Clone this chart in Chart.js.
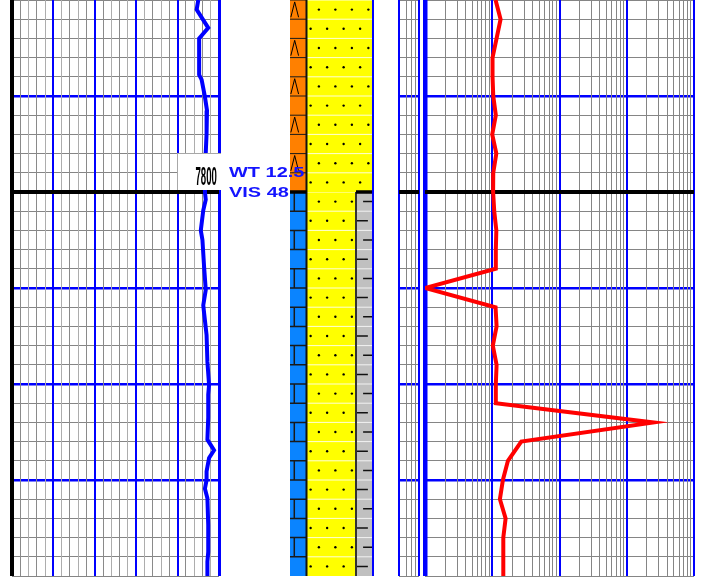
<!DOCTYPE html>
<html>
<head>
<meta charset="utf-8">
<script src="https://cdn.jsdelivr.net/npm/chart.js@4.4.1/dist/chart.umd.min.js"></script>
<style>
  html, body { margin:0; padding:0; background:#fff; }
  #wrap { position:relative; width:702px; height:581px; overflow:hidden; background:#fff; }
  #wrap canvas { position:absolute; left:0; top:0; }
  #depthBox { position:absolute; left:177px; top:153px; width:44px; height:37px; background:#fff;
              border-left:1px solid #a8a8a8; border-top:1px solid #a8a8a8; box-sizing:border-box; }
  #depthLbl { position:absolute; right:485.5px; top:162.5px; font:bold 26px "Liberation Sans", Arial, sans-serif;
              line-height:26px; color:#000; transform:scaleX(0.37); transform-origin:right center; white-space:nowrap; }
  .mud { position:absolute; left:229px; font:bold 15px "Liberation Sans", Arial, sans-serif; line-height:15px;
         color:#1414ff; transform:scaleX(1.33); transform-origin:left center; white-space:pre; }
</style>
</head>
<body>
<div id="wrap">
  <canvas id="trkLeft" width="702" height="581" style="width:702px;height:581px"></canvas>
  <canvas id="trkLith" width="702" height="581" style="width:702px;height:581px"></canvas>
  <canvas id="trkNarrow" width="702" height="581" style="width:702px;height:581px"></canvas>
  <canvas id="trkLog" width="702" height="581" style="width:702px;height:581px"></canvas>
  <div id="depthBox"></div>
  <div id="depthLbl"></div>
  <div class="mud" id="mudWt" style="top:164px"></div>
  <div class="mud" id="mudVis" style="top:183.5px"></div>
</div>
<script>
// ---------------- data ----------------
const depthTop = 7780, depthBase = 7840, rowFt = 2, majorFt = 10, markerDepth = 7800;

// left track (linear 0..25)
const leftMin = 0, leftMax = 25, leftMajor = 5;
const blueDepth = [7780.0, 7781.0, 7782.9, 7784.0, 7787.8, 7788.3, 7790.1, 7791.5, 7793.9, 7795.9,
                   7797.9, 7800.0, 7800.8, 7801.9, 7804.0, 7805.0, 7807.8, 7810.2, 7811.8, 7812.6,
                   7814.9, 7817.7, 7820.1, 7821.1, 7823.5, 7825.8, 7826.9, 7827.7, 7829.1, 7830.0,
                   7830.9, 7831.9, 7834.7, 7837.5, 7838.5, 7840.0];
const blueValue = [22.5, 22.3, 23.7, 22.6, 22.6, 22.9, 23.3, 23.55, 23.5, 23.4,
                   23.37, 23.3, 23.4, 23.1, 22.8, 23.0, 23.2, 23.4, 23.1, 23.2,
                   23.5, 23.6, 23.8, 23.7, 23.7, 23.6, 24.4, 23.8, 23.5, 23.5,
                   23.3, 23.6, 23.7, 23.7, 23.6, 23.6];

// lithology (percent of column, per interval)
const lithoTop      = [7780, 7800];
const lithoBase     = [7800, 7840];
const chertPct      = [20, 0];
const limestonePct  = [0, 20];
const sandstonePct  = [80, 60];
const shalePct      = [0, 20];

// narrow track grid
const narrowGrid = [0, 7.7, 12.7, 16.7, 20];

// log track (1..10000)
const logMin = 1, logMax = 10000;
const logDecades = [1, 10, 100, 1000];
const redDepth = [7780, 7782, 7784, 7786, 7788, 7790, 7792, 7794, 7796, 7798,
                  7800, 7802, 7804, 7806, 7808, 7810, 7812, 7814, 7816, 7818,
                  7820, 7822, 7824, 7826, 7828, 7830, 7832, 7834, 7836, 7838, 7840];
const redValue = [11.2, 13.3, 11.6, 10.1, 10.1, 10.35, 11.3, 10.0, 11.5, 10.35,
                  10.3, 10.7, 11.5, 11.3, 11.3, 1, 11.2, 11.6, 10.2, 11.6,
                  11.3, 11.3, 2500, 27, 17.1, 14.4, 13.0, 15.8, 14.6, 14.6, 14.6];

// header labels
const depthLabel = '7800';
const mudWeight = 'WT 12.5';
const mudVis = 'VIS 48';

// ---------------- styles / helpers ----------------
const W = 702, H = 581, plotBottom = 576;
const BLUE = '#0000ff', GRAY = '#858585';
const lithoColumns = ['chert', 'limestone', 'sandstone', 'shale'];
const lithoPct = { chert: chertPct, limestone: limestonePct, sandstone: sandstonePct, shale: shalePct };
const lithoFill = { chert: '#ff8000', limestone: '#0a84ff', sandstone: '#ffff00', shale: '#c0c0c0' };

const isMarker = v => Math.abs(v - markerDepth) < 1e-6;
const isEnd = v => Math.abs(v - depthTop) < 1e-6 || Math.abs(v - depthBase) < 1e-6;
const isMajorDepth = v => !isEnd(v) && Math.abs(Math.round(v) - v) < 1e-6 && Math.round(v) % majorFt === 0;

function yScales(show) {
  return {
    y: { type: 'linear', position: 'left', reverse: true, min: depthTop, max: depthBase,
         ticks: { display: false, stepSize: rowFt }, border: { display: false },
         grid: { display: show, drawTicks: false, z: -2,
                 color: c => isMarker(c.tick.value) ? '#000' : (isMajorDepth(c.tick.value) ? BLUE : GRAY),
                 lineWidth: c => isMarker(c.tick.value) ? 4 : (isMajorDepth(c.tick.value) ? 2.5 : 1) } },
    yMark: { type: 'linear', position: 'left', reverse: true, min: depthTop, max: depthBase,
         ticks: { display: false }, border: { display: false },
         afterBuildTicks: s => { s.ticks = [{ value: markerDepth }]; },
         grid: { display: show, drawTicks: false, z: 0, color: '#000', lineWidth: 4 } }
  };
}
function pad(left, right) { return { padding: { left: left, right: W - right, top: 0, bottom: H - plotBottom } }; }
const common = { responsive: false, animation: false, devicePixelRatio: 1, events: [],
                 plugins: { legend: { display: false }, tooltip: { enabled: false } } };

// ---------------- left track ----------------
new Chart(document.getElementById('trkLeft'), {
  type: 'scatter',
  data: { datasets: [{ data: blueDepth.map((d, i) => ({ x: blueValue[i], y: d })), showLine: true,
                       borderColor: BLUE, borderWidth: 4, pointRadius: 0, tension: 0 }] },
  options: Object.assign({}, common, {
    layout: pad(12, 219),
    scales: Object.assign({
      x: { type: 'linear', min: leftMin, max: leftMax, ticks: { display: false, stepSize: 1 }, border: { display: false },
           grid: { drawTicks: false, z: -1,
                   color: c => c.tick.value === leftMin ? '#000' : (c.tick.value % leftMajor === 0 ? BLUE : (c.index % 2 ? '#8a8a8a' : '#adadad')),
                   lineWidth: c => c.tick.value === leftMin ? 4 : (c.tick.value === leftMax ? 3 : (c.tick.value % leftMajor === 0 ? 2 : 1)) } }
    }, yScales(true))
  })
});

// ---------------- lithology ----------------
const lithoPlugin = {
  id: 'litho',
  beforeDatasetsDraw(chart) {
    const ctx = chart.ctx, xs = chart.scales.x, ys = chart.scales.y;
    const px = v => xs.getPixelForValue(v), py = v => ys.getPixelForValue(v);
    const segs = i => { let c = 0; const out = [];
      lithoColumns.forEach(t => { const p = lithoPct[t][i]; if (p > 0) { out.push({ t, a: c, b: c + p }); c += p; } });
      return out; };
    const typeAt = (i, p) => { const s = segs(i).find(s => p >= s.a && p < s.b); return s ? s.t : null; };
    const line = (x1, y1, x2, y2, col, w) => { ctx.beginPath(); ctx.moveTo(x1, y1); ctx.lineTo(x2, y2);
      ctx.strokeStyle = col; ctx.lineWidth = w; ctx.stroke(); };
    ctx.save();
    for (let i = 0; i < lithoTop.length; i++) {
      const yA = py(lithoTop[i]), yB = py(lithoBase[i]);
      segs(i).forEach(s => {
        const xA = px(s.a), xB = px(s.b), w = xB - xA;
        ctx.save();
        ctx.beginPath(); ctx.rect(xA, yA, w, yB - yA); ctx.clip();
        ctx.fillStyle = lithoFill[s.t]; ctx.fillRect(xA, yA, w, yB - yA);
        for (let d = lithoTop[i]; d < lithoBase[i] - 1e-9; d += rowFt) {
          const r = Math.round((d - depthTop) / rowFt), even = r % 2 === 0;
          const ra = py(d), rb = py(d + rowFt), rm = (ra + rb) / 2, h = rb - ra;
          if (s.t === 'chert') {
            line(xA, ra, xB, ra, '#1a1a1a', 1);
            if (even) {
              ctx.beginPath(); ctx.moveTo(xA + 0.05 * w, ra + 0.9 * h); ctx.lineTo(xA + 0.285 * w, ra + 0.1 * h);
              ctx.lineTo(xA + 0.52 * w, ra + 0.9 * h); ctx.strokeStyle = '#000'; ctx.lineWidth = 1; ctx.stroke();
            }
          } else if (s.t === 'limestone') {
            line(xA, ra, xB, ra, '#1a1a1a', 1.5);
            if (even) line(xA + 0.26 * w, ra, xA + 0.26 * w, rb, '#1a1a1a', 1.5);
          } else if (s.t === 'sandstone') {
            line(xA, ra, xB, ra, 'rgba(255,255,255,0.85)', 1);
            ctx.fillStyle = '#000';
            for (let p = even ? 15 : 5; p < 100; p += 20) {
              if (p > s.a && p < s.b) { ctx.beginPath(); ctx.arc(px(p), rm, 1.2, 0, Math.PI * 2); ctx.fill(); }
            }
          } else if (s.t === 'shale') {
            line(xA, ra, xB, ra, 'rgba(255,255,255,0.8)', 1);
            const f = even ? [0.43, 1.1] : [0.06, 0.72];
            line(xA + f[0] * w, rm, xA + f[1] * w, rm, '#111', 1.5);
          }
        }
        ctx.restore();
        if (s.a > 0) line(xA, yA, xA, yB, s.t === 'shale' ? '#333' : '#111', 2);
      });
      if (i > 0) {
        const cuts = [...new Set([0, 100, ...segs(i).flatMap(s => [s.a, s.b]), ...segs(i - 1).flatMap(s => [s.a, s.b])])]
                      .sort((a, b) => a - b);
        for (let k = 0; k < cuts.length - 1; k++) {
          const m = (cuts[k] + cuts[k + 1]) / 2;
          if (typeAt(i, m) !== typeAt(i - 1, m)) line(px(cuts[k]), yA, px(cuts[k + 1]), yA, '#000', 3.5);
        }
      }
    }
    ctx.restore();
  }
};
new Chart(document.getElementById('trkLith'), {
  type: 'scatter',
  data: { datasets: [] },
  options: Object.assign({}, common, {
    layout: pad(290, 372.5),
    scales: Object.assign({
      x: { type: 'linear', min: 0, max: 100, ticks: { display: false }, border: { display: false },
           afterBuildTicks: s => { s.ticks = [{ value: 100 }]; },
           grid: { drawTicks: false, z: 1, color: BLUE, lineWidth: 2 } }
    }, yScales(false))
  }),
  plugins: [lithoPlugin]
});

// ---------------- narrow track ----------------
new Chart(document.getElementById('trkNarrow'), {
  type: 'scatter',
  data: { datasets: [] },
  options: Object.assign({}, common, {
    layout: pad(399, 419),
    scales: Object.assign({
      x: { type: 'linear', min: narrowGrid[0], max: narrowGrid[narrowGrid.length - 1], ticks: { display: false },
           border: { display: false },
           afterBuildTicks: s => { s.ticks = narrowGrid.map(v => ({ value: v })); },
           grid: { drawTicks: false, z: -1,
                   color: c => (c.index === 0 || c.index === narrowGrid.length - 1) ? BLUE : GRAY,
                   lineWidth: c => (c.index === 0 || c.index === narrowGrid.length - 1) ? 2 : 1 } }
    }, yScales(true))
  })
});

// ---------------- log track ----------------
const logGrid = [];
logDecades.forEach(d => { for (let k = 1; k <= 9; k++) logGrid.push(k * d); });
logGrid.push(logMax);
const isDecade = v => Math.abs(Math.log10(v) - Math.round(Math.log10(v))) < 1e-9;
new Chart(document.getElementById('trkLog'), {
  type: 'scatter',
  data: { datasets: [{ data: redDepth.map((d, i) => ({ x: redValue[i], y: d })), showLine: true,
                       borderColor: '#ff0000', borderWidth: 4, pointRadius: 0, tension: 0 }] },
  options: Object.assign({}, common, {
    layout: pad(425, 694),
    scales: Object.assign({
      x: { type: 'logarithmic', min: logMin, max: logMax, ticks: { display: false }, border: { display: false },
           afterBuildTicks: s => { s.ticks = logGrid.map(v => ({ value: v })); },
           grid: { drawTicks: false, z: -1,
                   color: c => isDecade(c.tick.value) ? BLUE : GRAY,
                   lineWidth: c => c.tick.value === logMin ? 4.5 : (isDecade(c.tick.value) ? 2 : 1) } }
    }, yScales(true))
  })
});

// ---------------- labels ----------------
document.getElementById('depthLbl').textContent = depthLabel;
document.getElementById('mudWt').textContent = mudWeight;
document.getElementById('mudVis').textContent = mudVis;
</script>
</body>
</html>
